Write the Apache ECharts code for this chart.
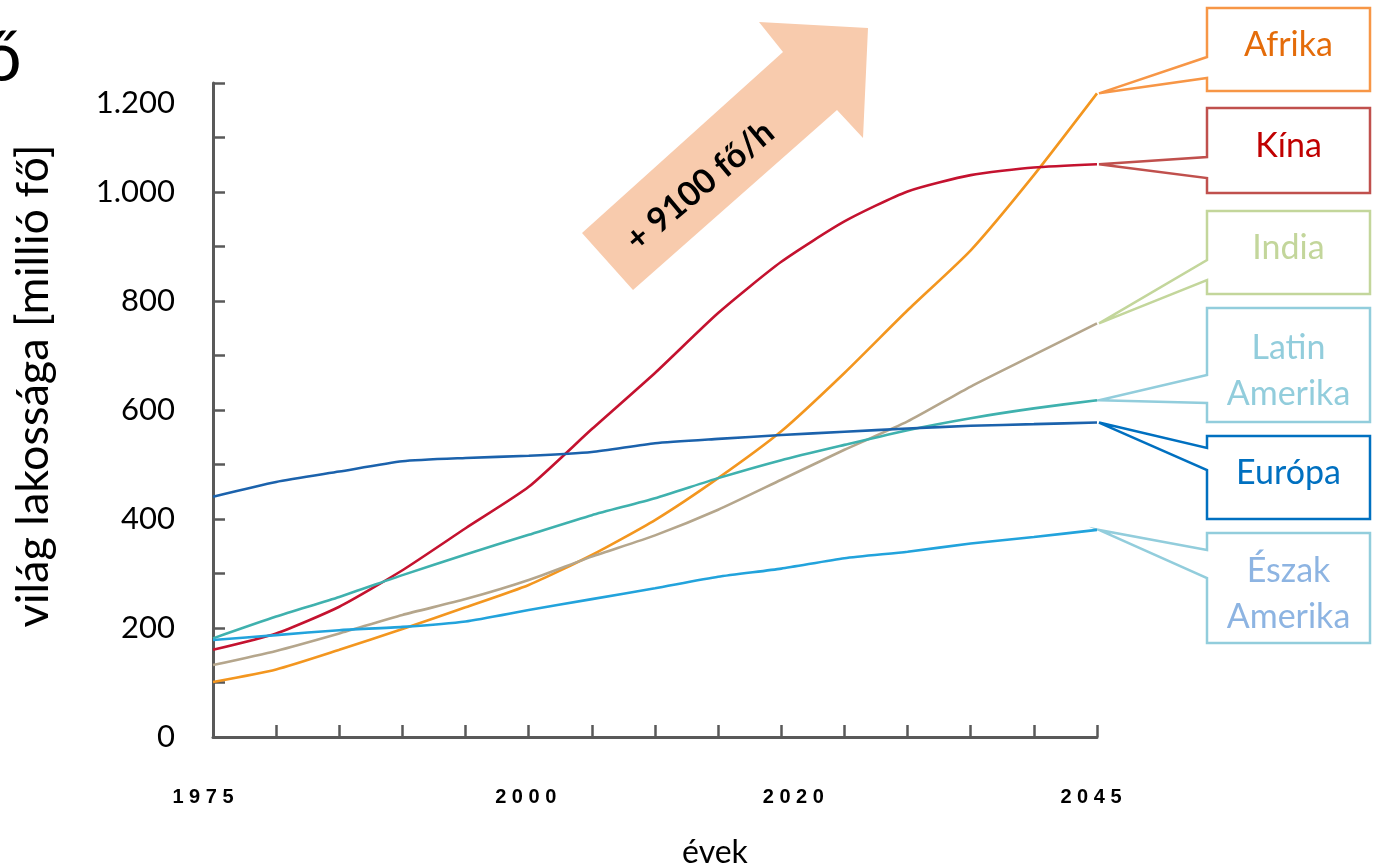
<!DOCTYPE html>
<html>
<head>
<meta charset="utf-8">
<title>Népesség</title>
<script src="https://cdn.jsdelivr.net/npm/echarts@6/dist/echarts.min.js"></script>
<style>
    html, body {margin: 0; padding: 0; background: #fff;}
    #main {width: 1386px; height: 868px;}
</style>
</head>
<body>
<div id="main"></div>
<script>
/* Values, million people every 5 years. */
var years  = [1975, 1980, 1985, 1990, 1995, 2000, 2005, 2010, 2015, 2020, 2025, 2030, 2035, 2040, 2045];
var afrika = [101, 124, 160, 198, 238, 279, 334, 398, 475, 561, 668, 783, 893, 1031, 1181];
var kina   = [160, 190, 239, 306, 383, 459, 565, 668, 778, 872, 946, 1001, 1031, 1045, 1051];
var india  = [132, 158, 190, 224, 253, 288, 331, 370, 417, 472, 527, 579, 643, 701, 759];
var latin  = [181, 221, 257, 297, 335, 371, 407, 438, 475, 508, 536, 563, 585, 603, 618];
var europa = [441, 468, 487, 506, 512, 516, 523, 539, 547, 554, 560, 566, 571, 574, 577];
var eszak  = [178, 187, 196, 202, 212, 233, 253, 273, 294, 309, 328, 340, 355, 367, 380];

var shownYears = [1975, 2000, 2020, 2045];
var seriesNames = ['Afrika', 'Kína', 'India', 'Latin\nAmerika', 'Európa', 'Észak\nAmerika'];

var calibri = 'Lato, "Open Sans", sans-serif';
var arialBold = {fontSize: 20, fontWeight: 'bold', fontFamily: 'Liberation Sans, Arial, sans-serif', color: '#000'};

function pairs(values)
{
    return years.map(function(y, i) { return [y, values[i]]; });
}

function lineSeries(name, values, color)
{
    return {
        name: name,
        type: 'line',
        data: pairs(values),
        showSymbol: false,
        smooth: 0.2,
        lineStyle: {color: color, width: 2.6},
        itemStyle: {color: color}
    };
}

/* The year labels of the slide sit a little off their ticks. */
function yearStyle(shift)
{
    return Object.assign({padding: [0, shift < 0 ? -2 * shift : 0, 0, shift > 0 ? 2 * shift : 0]}, arialBold);
}

var chart  = echarts.init(document.getElementById('main'));
var option = {
    backgroundColor: '#fff',
    animation: false,
    grid: {left: 213, right: 289, top: 83, bottom: 131, outerBoundsMode: 'none', containLabel: false},
    xAxis: {
        type: 'value',
        min: 1975,
        max: 2045,
        interval: 5,
        name: 'évek',
        nameLocation: 'middle',
        nameGap: 100,
        nameTextStyle: {color: '#000', fontSize: 32, fontFamily: calibri, padding: [0, 0, 0, 120]},
        axisLine: {lineStyle: {color: '#595959', width: 3}},
        axisTick: {inside: true, length: 12, lineStyle: {color: '#595959', width: 2.5}},
        splitLine: {show: false},
        axisLabel: Object.assign({
            margin: 50,
            formatter: function(v)
            {
                if(shownYears.indexOf(v) < 0) return '';
                return '{y' + v + '|' + String(v).split('').join(' ') + '}';
            },
            rich: {
                y1975: yearStyle(-10),
                y2000: yearStyle(-3),
                y2020: yearStyle(12),
                y2045: yearStyle(-6)
            }
        }, arialBold)
    },
    yAxis: {
        type: 'value',
        min: 0,
        max: 1200,
        interval: 100,
        name: 'világ lakossága [millió fő]',
        nameLocation: 'middle',
        nameRotate: 90,
        nameGap: 157,
        nameTextStyle: {color: '#000', fontSize: 45, fontFamily: calibri, padding: [0, 0, 0, 48]},
        axisLine: {show: true, lineStyle: {color: '#595959', width: 3}},
        axisTick: {inside: true, length: 12, lineStyle: {color: '#595959', width: 2.5}},
        splitLine: {show: false},
        axisLabel: {
            margin: 38,
            color: '#000',
            fontSize: 31,
            fontFamily: calibri,
            formatter: function(v)
            {
                if(v % 200 !== 0) return '';
                var s = v >= 1000 ? Math.floor(v / 1000) + '.' + String(v % 1000).padStart(3, '0') : String(v);
                if(v === 1200) return '{low|' + s + '}';
                return s;
            },
            rich: {
                low: {fontSize: 31, fontFamily: calibri, color: '#000', padding: [40, 0, 0, 0]}
            }
        }
    },
    series: [
        lineSeries('Afrika', afrika, '#F3961F'),
        lineSeries('Kína', kina, '#C4122F'),
        lineSeries('India', india, '#B5A68C'),
        lineSeries('Latin Amerika', latin, '#3FB1AE'),
        lineSeries('Észak Amerika', eszak, '#22A3DC'),
        lineSeries('Európa', europa, '#1B62AC')
    ]
};
chart.setOption(option);

/* Callout boxes on the right, tip at the last point of each series. */
var boxLeft  = 1207;
var boxRight = 1370;
var boxes = [
    {values: afrika, top: 8,   bottom: 91,  e1: 57,  e2: 78,  stroke: '#F79646', text: '#E46C0A'},
    {values: kina,   top: 108, bottom: 193, e1: 157, e2: 178, stroke: '#C0504D', text: '#C00000'},
    {values: india,  top: 211, bottom: 294, e1: 260, e2: 280, stroke: '#C3D69B', text: '#C3D69B'},
    {values: latin,  top: 308, bottom: 422, e1: 375, e2: 403, stroke: '#92CDDC', text: '#92CDDC'},
    {values: europa, top: 436, bottom: 519, e1: 448, e2: 470, stroke: '#0070C0', text: '#0070C0'},
    {values: eszak,  top: 533, bottom: 643, e1: 550, e2: 578, stroke: '#92CDDC', text: '#8DB4E2'}
];

var graphics = [];

/* Arrow with the growth rate. */
graphics.push({
    type: 'polygon',
    shape: {points: [[582, 233], [783, 52], [759, 22], [868, 28], [863, 138], [837, 110], [633, 290]]},
    style: {fill: '#F8CBAD'},
    z: 1
});
graphics.push({
    type: 'text',
    x: 700,
    y: 186,
    rotation: 40 * Math.PI / 180,
    style: {
        text: '+ 9100 fő/h',
        fill: '#000',
        font: 'bold 34px ' + calibri,
        align: 'center', verticalAlign: 'middle',
        textAlign: 'center', textVerticalAlign: 'middle'
    },
    z: 2
});

/* Cut off letter of the slide title. */
graphics.push({
    type: 'text',
    x: -18,
    y: 58,
    style: {
        text: 'ő',
        fill: '#000',
        font: '70px ' + calibri,
        align: 'left', verticalAlign: 'middle',
        textAlign: 'left', textVerticalAlign: 'middle'
    }
});

boxes.forEach(function(b, i)
{
    var last = b.values.length - 1;
    var tip  = chart.convertToPixel({gridIndex: 0}, [years[last], b.values[last]]);
    var twoLines = seriesNames[i].indexOf('\n') >= 0;
    tip[0] += 2;
    graphics.push({
        type: 'polygon',
        shape: {points: [
            [boxLeft, b.top], [boxLeft, b.e1], tip, [boxLeft, b.e2],
            [boxLeft, b.bottom], [boxRight, b.bottom], [boxRight, b.top]
        ]},
        style: {fill: '#fff', stroke: b.stroke, lineWidth: 2.5},
        z: 3
    });
    graphics.push({
        type: 'text',
        x: (boxLeft + boxRight) / 2,
        y: (b.top + b.bottom) / 2 + (twoLines ? 6 : -4),
        style: {
            text: seriesNames[i],
            fill: b.text,
            font: '34px ' + calibri,
            lineHeight: 46,
            align: 'center', verticalAlign: 'middle',
            textAlign: 'center', textVerticalAlign: 'middle'
        },
        z: 4
    });
});

chart.setOption({graphic: {elements: graphics}});
</script>
</body>
</html>
